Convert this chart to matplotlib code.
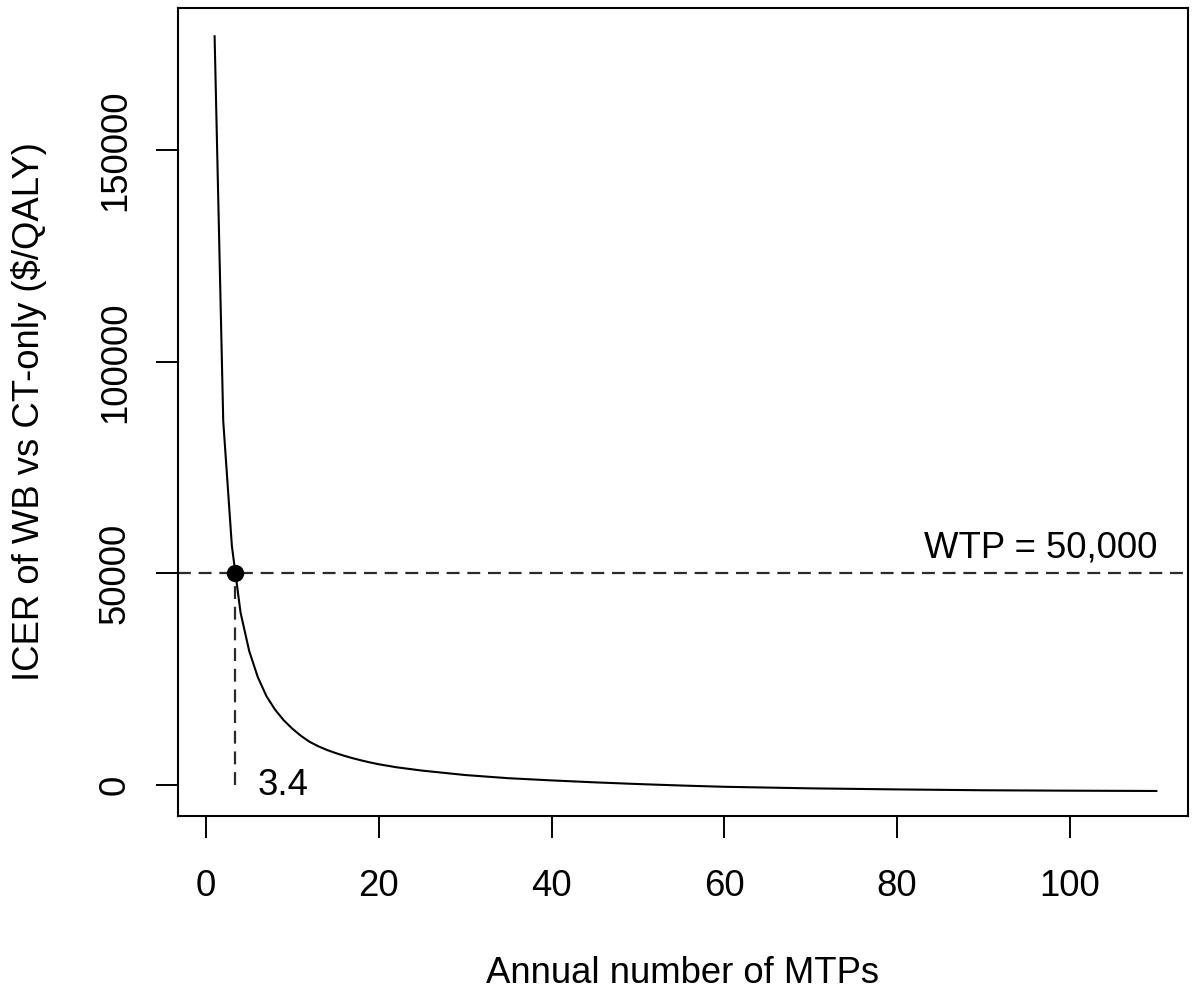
import matplotlib
matplotlib.use("Agg")
import matplotlib.pyplot as plt

plt.rcParams['font.family'] = ['Liberation Sans', 'DejaVu Sans']

# values
mtps = [1, 2, 3, 4, 5, 6, 7, 8, 9, 10, 11, 12, 13, 14, 15, 16, 17, 18, 19, 20,
        22, 25, 30, 35, 40, 45, 50, 55, 60, 70, 80, 90, 100, 110]
icer = [177000, 86000, 56500, 40800, 31700, 25500, 21000, 17800, 15300, 13300,
        11600, 10200, 9150, 8280, 7550, 6900, 6320, 5800, 5320, 4900,
        4200, 3400, 2350, 1600, 1080, 620, 220, -130, -430, -800, -1050, -1250,
        -1350, -1420]

wtp = 50000
breakeven = 3.4
xticks = [0, 20, 40, 60, 80, 100]
yticks = [0, 50000, 100000, 150000]

fs = 26.3

fig = plt.figure(figsize=(11.96, 9.94), dpi=100)
ax = fig.add_axes([0.1488, 0.1791, 0.8445, 0.8129])

ax.plot(mtps, icer, color='black', lw=1.5)
ax.axhline(wtp, color='#2a2a2a', lw=1.6, dashes=(5.8, 3.5))
ax.plot([breakeven, breakeven], [0, wtp], color='#2a2a2a', lw=1.6, dashes=(5.8, 3.5))
ax.plot([breakeven], [wtp], 'o', color='black', ms=11.5)

ax.text(6.0, -180, "3.4", fontsize=fs, ha='left', va='center')
ax.text(96.6, 56090, "WTP = 50,000", fontsize=fs, ha='center', va='center')

ax.set_xlim(-3.24, 113.66)
ax.set_ylim(-7330, 183700)
ax.set_xticks(xticks)
ax.set_yticks(yticks)
ax.set_yticklabels([str(v) for v in yticks], rotation=90, va='center')
ax.tick_params(axis='both', direction='out', length=15.8, width=1.4, labelsize=fs)
ax.tick_params(axis='x', pad=22.3)
ax.tick_params(axis='y', pad=16.6)
for s in ax.spines.values():
    s.set_linewidth(1.5)

ax.set_xlabel("Annual number of MTPs", fontsize=fs, va='center')
ax.set_ylabel("ICER of WB vs CT-only ($/QALY)", fontsize=fs, va='center')
ax.xaxis.set_label_coords(0.5, -0.1952)
ax.yaxis.set_label_coords(-0.1478, 0.5)

fig.savefig("out.png", dpi=100)
